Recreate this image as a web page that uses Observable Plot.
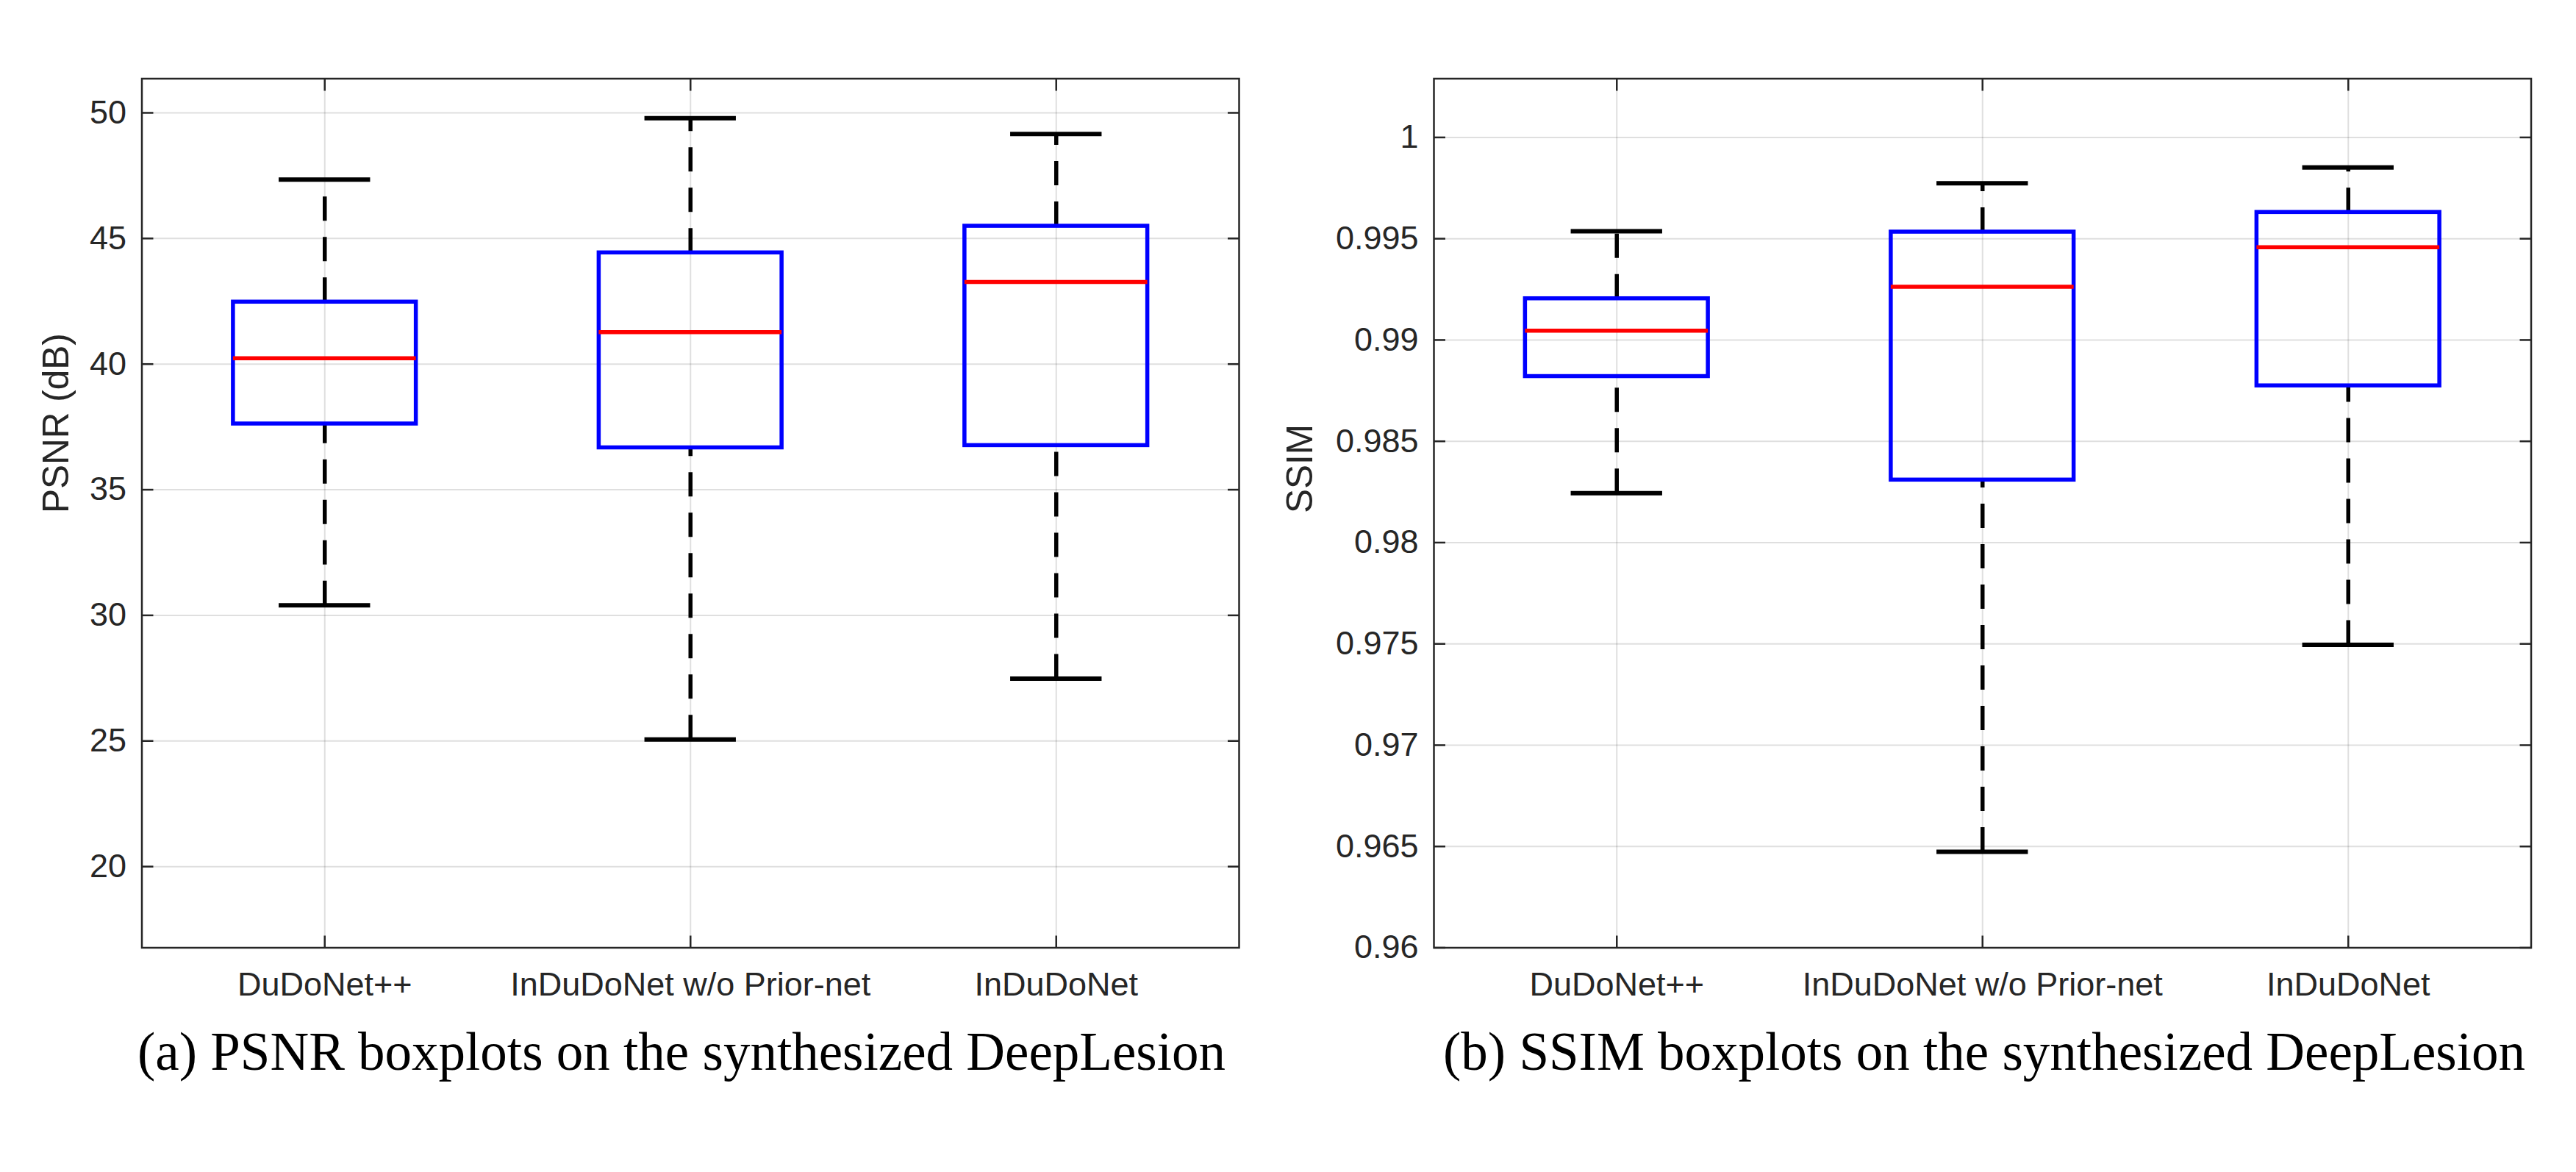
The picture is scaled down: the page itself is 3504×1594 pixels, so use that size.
<!DOCTYPE html>
<html>
<head>
<meta charset="utf-8">
<script src="https://cdn.jsdelivr.net/npm/d3@7"></script>
<script src="https://cdn.jsdelivr.net/npm/@observablehq/plot@0.6"></script>
<style>
  html, body { margin: 0; padding: 0; background: #ffffff; }
  body { width: 3504px; height: 1594px; position: relative; overflow: hidden; }
  .panel { position: absolute; top: 0; width: 1752px; }
  .caption {
    position: absolute; top: 1394px; transform: translateX(-50%);
    font-family: "Liberation Serif", "Times New Roman", serif; font-size: 73px;
    line-height: 73px; color: #000; white-space: nowrap;
  }
</style>
</head>
<body>
<div id="left" class="panel" style="left:0px"></div>
<div id="right" class="panel" style="left:1752px"></div>
<div class="caption" style="left:927px">(a) PSNR boxplots on the synthesized DeepLesion</div>
<div class="caption" style="left:2699px">(b) SSIM boxplots on the synthesized DeepLesion</div>
<script>
// ---- data ----
const categories = ["DuDoNet++", "InDuDoNet w/o Prior-net", "InDuDoNet"];

const psnrLow    = [30.40, 25.06, 27.48];
const psnrQ1     = [37.62, 36.67, 36.76];
const psnrMedian = [40.23, 41.27, 43.27];
const psnrQ3     = [42.47, 44.43, 45.49];
const psnrHigh   = [47.34, 49.79, 49.16];

const ssimLow    = [0.98244, 0.96474, 0.97495];
const ssimQ1     = [0.98820, 0.98309, 0.98774];
const ssimMedian = [0.99046, 0.99263, 0.99458];
const ssimQ3     = [0.99204, 0.99533, 0.99630];
const ssimHigh   = [0.99537, 0.99774, 0.99852];

const psnrTicks = [20, 25, 30, 35, 40, 45, 50];
const psnrTickLabels = ["20", "25", "30", "35", "40", "45", "50"];
const ssimTicks = [0.96, 0.965, 0.97, 0.975, 0.98, 0.985, 0.99, 0.995, 1];
const ssimTickLabels = ["0.96", "0.965", "0.97", "0.975", "0.98", "0.985", "0.99", "0.995", "1"];

const psnrDomain = [16.77, 51.36];
const ssimDomain = [0.96, 1.0029];

// ---- chart ----
const AXIS = "#262626";

function rowsOf(lo, q1, med, q3, hi) {
  return categories.map((c, i) => ({cat: c, pos: i + 1, lo: lo[i], q1: q1[i], med: med[i], q3: q3[i], hi: hi[i]}));
}

function boxChart({rows, ticks, tickLabels, domain, label, marginLeft, marginRight, labelDx}) {
  const xs = categories.map((c, i) => i + 1);
  const fmtY = d => tickLabels[ticks.indexOf(d)];
  const fmtX = d => categories[d - 1];
  const blank = () => "";
  return Plot.plot({
    width: 1752,
    height: 1380,
    marginLeft,
    marginRight,
    marginTop: 106.5,
    marginBottom: 91.5,
    style: {fontFamily: "'Liberation Sans', Arial, sans-serif", fontSize: "45px", color: AXIS, background: "#ffffff", overflow: "visible"},
    x: {type: "linear", domain: [0.5, 3.5], label: null},
    y: {type: "linear", domain, label: null},
    marks: [
      Plot.gridY(ticks, {stroke: AXIS, strokeOpacity: 0.15, strokeWidth: 2}),
      Plot.gridX(xs, {stroke: AXIS, strokeOpacity: 0.15, strokeWidth: 2}),
      // whiskers (dashed), drawn from lower to upper value
      Plot.ruleX(rows, {x: "pos", y1: "lo", y2: "q1", stroke: "#000000", strokeWidth: 5.5, strokeDasharray: "33,22"}),
      Plot.ruleX(rows, {x: "pos", y1: "q3", y2: "hi", stroke: "#000000", strokeWidth: 5.5, strokeDasharray: "33,22"}),
      // whisker caps
      Plot.ruleY(rows, {y: "lo", x1: d => d.pos - 0.125, x2: d => d.pos + 0.125, stroke: "#000000", strokeWidth: 6}),
      Plot.ruleY(rows, {y: "hi", x1: d => d.pos - 0.125, x2: d => d.pos + 0.125, stroke: "#000000", strokeWidth: 6}),
      // boxes
      Plot.rect(rows, {x1: d => d.pos - 0.25, x2: d => d.pos + 0.25, y1: "q1", y2: "q3", fill: "none", stroke: "#0000ff", strokeWidth: 5.5}),
      // medians
      Plot.ruleY(rows, {y: "med", x1: d => d.pos - 0.25, x2: d => d.pos + 0.25, stroke: "#ff0000", strokeWidth: 5.5}),
      Plot.frame({stroke: AXIS, strokeWidth: 2.5}),
      // inward tick marks on all four sides
      Plot.axisY(ticks, {anchor: "left", tickSize: 16, dx: 16, tickFormat: blank, label: null, stroke: AXIS, strokeWidth: 2.5}),
      Plot.axisY(ticks, {anchor: "right", tickSize: 16, dx: -16, tickFormat: blank, label: null, stroke: AXIS, strokeWidth: 2.5}),
      Plot.axisX(xs, {anchor: "bottom", tickSize: 16, dy: -16, tickFormat: blank, label: null, stroke: AXIS, strokeWidth: 2.5}),
      Plot.axisX(xs, {anchor: "top", tickSize: 16, dy: 16, tickFormat: blank, label: null, stroke: AXIS, strokeWidth: 2.5}),
      // tick labels
      Plot.axisY(ticks, {anchor: "left", tickSize: 0, tickPadding: 21, tickFormat: fmtY, label: null, fontSize: 45, fill: AXIS}),
      Plot.axisX(xs, {anchor: "bottom", tickSize: 0, tickPadding: 33, tickFormat: fmtX, label: null, fontSize: 45, fill: AXIS}),
      // y-axis title
      Plot.text([label], {text: d => d, frameAnchor: "left", rotate: -90, dx: labelDx, fontSize: 49.5, fill: AXIS})
    ]
  });
}

document.getElementById("left").appendChild(boxChart({
  rows: rowsOf(psnrLow, psnrQ1, psnrMedian, psnrQ3, psnrHigh),
  ticks: psnrTicks, tickLabels: psnrTickLabels, domain: psnrDomain,
  label: "PSNR (dB)", marginLeft: 192.5, marginRight: 67, labelDx: -115.5
}));
document.getElementById("right").appendChild(boxChart({
  rows: rowsOf(ssimLow, ssimQ1, ssimMedian, ssimQ3, ssimHigh),
  ticks: ssimTicks, tickLabels: ssimTickLabels, domain: ssimDomain,
  label: "SSIM", marginLeft: 198, marginRight: 61.5, labelDx: -181
}));
</script>
</body>
</html>
